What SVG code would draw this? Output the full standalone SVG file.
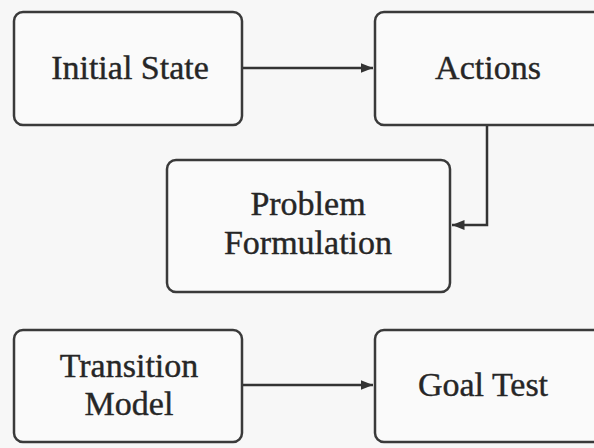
<svg xmlns="http://www.w3.org/2000/svg" width="594" height="448" viewBox="0 0 594 448">
  <style>
    .box { fill: #fafafa; stroke: #3a3a3a; stroke-width: 2.5; }
    .lbl { font-family: "Liberation Serif", "Times New Roman", serif; font-size: 34px; fill: #262626; stroke: #262626; stroke-width: 0.4; text-anchor: middle; }
    .edge { fill: none; stroke: #333; stroke-width: 2.5; }
  </style>
  <defs>
    <marker id="arrow" viewBox="0 0 10 10" refX="10" refY="5" markerWidth="5" markerHeight="5" orient="auto" markerUnits="strokeWidth">
      <path d="M0,1 L10,5 L0,9 z" fill="#333"/>
    </marker>
  </defs>
  <rect width="594" height="448" fill="#f7f7f7"/>

  <g id="edges">
    <path class="edge" d="M242,68 H373" marker-end="url(#arrow)"/>
    <path class="edge" d="M487,125 V225 H452" marker-end="url(#arrow)"/>
    <path class="edge" d="M242,385 H373" marker-end="url(#arrow)"/>
  </g>

  <g id="initial-state">
    <rect class="box" x="14" y="12" width="228" height="113" rx="9"/>
    <text class="lbl" x="130" y="79">Initial State</text>
  </g>
  <g id="actions">
    <rect class="box" x="375" y="12" width="240" height="113" rx="9"/>
    <text class="lbl" x="488" y="79">Actions</text>
  </g>
  <g id="problem-formulation">
    <rect class="box" x="167" y="160" width="283" height="132" rx="9"/>
    <text class="lbl" x="308" y="215">Problem</text>
    <text class="lbl" x="308" y="254">Formulation</text>
  </g>
  <g id="transition-model">
    <rect class="box" x="14" y="330" width="228" height="112" rx="9"/>
    <text class="lbl" x="129" y="377">Transition</text>
    <text class="lbl" x="129" y="415">Model</text>
  </g>
  <g id="goal-test">
    <rect class="box" x="375" y="330" width="240" height="112" rx="9"/>
    <text class="lbl" x="483" y="396">Goal Test</text>
  </g>
</svg>
